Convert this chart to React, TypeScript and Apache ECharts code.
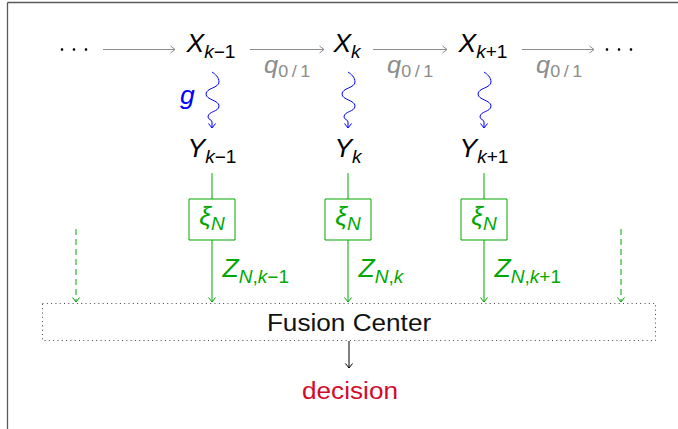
import React, { useEffect, useRef } from "react";
import * as echarts from "echarts";

// ---- diagram content (texts) ----
const TIME_SUBSCRIPTS = ["k−1", "k", "k+1"];
const Z_SUBSCRIPTS = ["N,k−1", "N,k", "N,k+1"];
const STATE_SYMBOL = "X";
const OBS_SYMBOL = "Y";
const QUANTIZER = ["ξ", "N"];
const MESSAGE_SYMBOL = "Z";
const TRANSITION_LABEL = ["q", "0\u2009/\u20091"];
const CHANNEL_LABEL = "g";
const FUSION_LABEL = "Fusion Center";
const DECISION_LABEL = "decision";

// ---- layout & styles ----
const FONT = "'Liberation Sans', Arial, sans-serif";
const COL_X = [212, 348, 484];
const SIDE_X = [76, 621];
const SX = 1.06;
const MAIN = 25;
const SUB = 18;
const CENTRAL = 0.3465;
const GRAY = "#8c8c8c";
const BLUE = "#0000ff";
const GREEN = "#00a800";
const RED = "#d4092b";

const SNAKE_D =
  "M0 0 C3 2 7 5 7 10 C7 16 -6 16 -6 22 C-6 28 7 28 7 34 C7 40 -4 39 -4 45 C-4 47.5 0 47.5 0 50 L0 56";
echarts.graphic.registerShape("snake", echarts.graphic.extendPath(SNAKE_D, {}));

let ctx: CanvasRenderingContext2D | null = null;
function textWidth(t: string, size: number, italic: boolean) {
  if (!ctx) ctx = document.createElement("canvas").getContext("2d");
  ctx!.font = `${italic ? "italic " : ""}${size}px ${FONT}`;
  return ctx!.measureText(t).width;
}
function runs(s: string) {
  const out: { t: string; it: boolean }[] = [];
  const re = /[A-Za-z\u03b1-\u03c9]+|[^A-Za-z\u03b1-\u03c9]+/g;
  let m: RegExpExecArray | null;
  while ((m = re.exec(s))) out.push({ t: m[0], it: /[A-Za-z\u03b1-\u03c9]/.test(m[0]) });
  return out;
}
function mathLabel(
  x: number,
  baseline: number,
  main: string,
  sub: string,
  color: string,
  align: "center" | "left" = "center",
  mainSize = MAIN,
  subSize = SUB,
  drop = 6.5
) {
  const segs: any[] = [];
  runs(main).forEach((r) => segs.push({ ...r, size: mainSize, b: baseline }));
  runs(sub).forEach((r) => segs.push({ ...r, size: subSize, b: baseline + drop }));
  const widths = segs.map((s) => textWidth(s.t, s.size, s.it) * SX);
  const total = widths.reduce((a, b) => a + b, 0);
  let cx = align === "center" ? x - total / 2 : x;
  return segs.map((s, i) => {
    const el = {
      type: "text",
      x: cx,
      y: s.b - CENTRAL * s.size,
      scaleX: SX,
      silent: true,
      style: {
        text: s.t,
        font: `${s.it ? "italic " : ""}${s.size}px ${FONT}`,
        fill: color,
        align: "left",
        verticalAlign: "middle",
      },
    };
    cx += widths[i];
    return el;
  });
}
function plainText(x: number, baseline: number, text: string, color: string, size = 24, sx = 1.09) {
  return {
    type: "text",
    x,
    y: baseline - CENTRAL * size,
    scaleX: sx,
    silent: true,
    style: {
      text,
      font: `${size}px ${FONT}`,
      fill: color,
      align: "center",
      verticalAlign: "middle",
    },
  };
}
function line(x1: number, y1: number, x2: number, y2: number, color: string, dash?: number[], w = 1) {
  return {
    type: "line",
    silent: true,
    shape: { x1, y1, x2, y2 },
    style: { stroke: color, lineWidth: w, lineDash: dash || null },
  };
}
function headDown(x: number, y: number, color: string) {
  return {
    type: "polyline",
    silent: true,
    shape: { points: [[x - 3.5, y - 4.5], [x, y], [x + 3.5, y - 4.5]] },
    style: { stroke: color, fill: "none", lineWidth: 1 },
  };
}
function headRight(x: number, y: number, color: string) {
  return {
    type: "polyline",
    silent: true,
    shape: { points: [[x - 4.5, y - 3.5], [x, y], [x - 4.5, y + 3.5]] },
    style: { stroke: color, fill: "none", lineWidth: 1 },
  };
}

export default function App() {
  const ref = useRef<HTMLDivElement>(null);
  useEffect(() => {
    if (!ref.current) return;
    const chart = echarts.init(ref.current, null, { renderer: "svg" });
    const els: any[] = [];

    // frame
    els.push(line(7.5, 2.5, 7.5, 429, "#5a5a5a", undefined, 1.3));
    els.push(line(7.5, 2.5, 678, 2.5, "#5a5a5a", undefined, 1.3));

    // dots
    [62, 74, 86, 607, 619, 631].forEach((x) =>
      els.push({ type: "circle", silent: true, shape: { cx: x, cy: 49.5, r: 1.3 }, style: { fill: "#000" } })
    );

    // horizontal transition arrows
    const arrows = [
      [103, 175],
      [250, 324],
      [373, 447],
      [522, 594],
    ];
    arrows.forEach(([a, b], i) => {
      els.push(line(a, 49.5, b, 49.5, GRAY));
      els.push(headRight(b, 49.5, GRAY));
      if (i > 0) els.push(...mathLabel(a + 14, 73.5, TRANSITION_LABEL[0], TRANSITION_LABEL[1], GRAY, "left", 24, 17, 4));
    });

    COL_X.forEach((cx, i) => {
      // X state
      els.push(...mathLabel(cx - 1, 51.5, STATE_SYMBOL, TIME_SUBSCRIPTS[i], "#000"));
      // snake arrow
      els.push({
        type: "snake",
        x: cx,
        y: 72,
        silent: true,
        style: { stroke: BLUE, fill: "none", lineWidth: 1 },
      });
      els.push(headDown(cx, 128, BLUE));
      // Y obs
      els.push(...mathLabel(cx, 156.5, OBS_SYMBOL, TIME_SUBSCRIPTS[i], "#000"));
      // green chain
      els.push(line(cx, 173, cx, 199, GREEN));
      els.push({
        type: "rect",
        silent: true,
        shape: { x: cx - 23, y: 199, width: 46, height: 41 },
        style: { stroke: GREEN, fill: "none", lineWidth: 1 },
      });
      els.push(...mathLabel(cx, 225, QUANTIZER[0], QUANTIZER[1], GREEN, "center", 25, 18, 5));
      els.push(line(cx, 240, cx, 302, GREEN));
      els.push(headDown(cx, 302, GREEN));
      els.push(...mathLabel(cx + 10.5, 276.5, MESSAGE_SYMBOL, Z_SUBSCRIPTS[i], GREEN, "left"));
    });

    // channel label
    els.push(...mathLabel(180, 104, CHANNEL_LABEL, "", BLUE, "left"));

    // dashed side arrows
    SIDE_X.forEach((x) => {
      els.push(line(x, 229, x, 302, GREEN, [6, 4]));
      els.push(headDown(x, 302, GREEN));
    });

    // fusion center box
    els.push({
      type: "rect",
      silent: true,
      shape: { x: 42.5, y: 303.5, width: 613, height: 37 },
      style: { stroke: "#444", fill: "none", lineWidth: 1, lineDash: [1, 3.3] },
    });
    els.push(plainText(349, 331, FUSION_LABEL, "#111"));
    els.push(line(349, 341, 349, 368, "#000"));
    els.push(headDown(349, 368, "#000"));
    els.push(plainText(350, 399, DECISION_LABEL, RED));

    chart.setOption({ animation: false, graphic: { elements: els } });
    return () => chart.dispose();
  }, []);
  return (
    <div
      ref={ref}
      style={{ position: "fixed", left: 0, top: 0, width: 678, height: 429, background: "#fff" }}
    />
  );
}
